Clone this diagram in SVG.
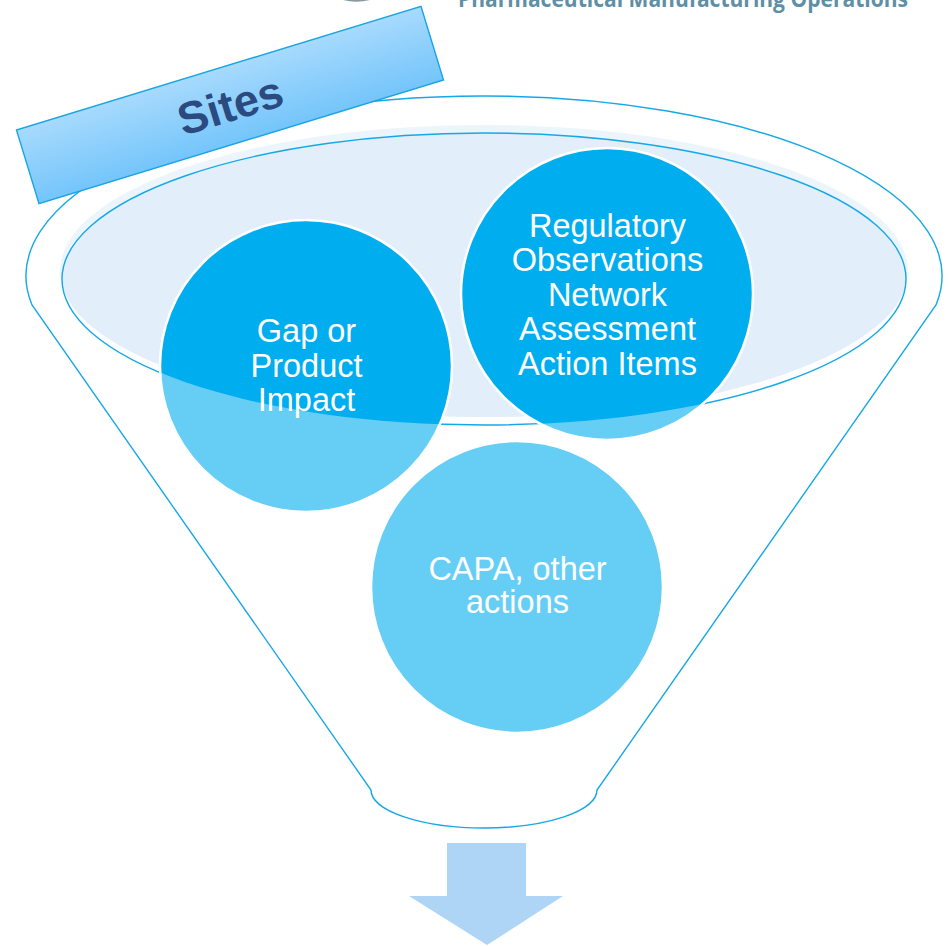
<svg xmlns="http://www.w3.org/2000/svg" width="949" height="946" viewBox="0 0 949 946">
  <defs>
    <linearGradient id="bannerFill" x1="0" y1="0" x2="0" y2="1">
      <stop offset="0" stop-color="#a7dafd"/>
      <stop offset="1" stop-color="#74c5fb"/>
    </linearGradient>
    <!-- soft upper halo of the basin -->
    <clipPath id="haloClip">
      <ellipse cx="484" cy="271" rx="424" ry="146"/>
    </clipPath>
    <!-- area inside the basin rim -->
    <clipPath id="basinClip">
      <ellipse cx="484" cy="279" rx="422" ry="146"/>
    </clipPath>
    <style>
      .outline { fill: none; stroke: #16a8e6; stroke-width: 1.4; }
      .disc-light { fill: #66cef5; }
      .disc-dark { fill: #00aeef; }
      .disc-edge { fill: none; stroke: #ffffff; stroke-width: 2.5; }
      .label { font-family: "Liberation Sans", Arial, sans-serif; font-size: 32.5px; fill: #ffffff; text-anchor: middle; }
    </style>
  </defs>

  <rect width="949" height="946" fill="#ffffff"/>

  <!-- header strip -->
  <g id="header">
    <path d="M343,0 Q356,3.5 370,0 Z" fill="#8a99a0"/>
    <text x="458" y="7" textLength="450" lengthAdjust="spacingAndGlyphs" font-family="'Open Sans', 'Liberation Sans', sans-serif" font-weight="700" font-size="24" fill="#5f8fa4">Pharmaceutical Manufacturing Operations</text>
  </g>

  <!-- funnel body -->
  <g id="funnel">
    <path class="outline" d="M32,305 A458,180 0 1 1 936,305 L597,790 A113,38 0 0 1 371,790 Z"/>
  </g>

  <!-- basin of the funnel -->
  <g id="basin">
    <ellipse cx="484" cy="271" rx="424" ry="146" fill="#ecf4fc"/>
    <ellipse cx="484" cy="279" rx="422" ry="146" fill="#e2eefa" clip-path="url(#haloClip)"/>
    <ellipse class="outline" cx="484" cy="279" rx="422" ry="146"/>
  </g>

  <!-- banner -->
  <g id="sites" transform="translate(230,105) rotate(-17)">
    <rect x="-211.5" y="-38.5" width="423" height="77" fill="url(#bannerFill)" stroke="#18a4e3" stroke-width="1.4"/>
    <text x="0" y="16" text-anchor="middle" font-family="'Liberation Sans', Arial, sans-serif" font-weight="bold" font-size="45" fill="#2a4a80">Sites</text>
  </g>

  <!-- nodes -->
  <g id="node-gap">
    <circle class="disc-light" cx="306" cy="366" r="146"/>
    <circle class="disc-dark" cx="306" cy="366" r="146" clip-path="url(#basinClip)"/>
    <circle class="disc-edge" cx="306" cy="366" r="146"/>
    <text class="label" x="306.5" y="341.5">Gap or</text>
    <text class="label" x="306.5" y="376.5">Product</text>
    <text class="label" x="306.5" y="410.5">Impact</text>
  </g>

  <g id="node-regulatory">
    <circle class="disc-light" cx="607" cy="294" r="146"/>
    <circle class="disc-dark" cx="607" cy="294" r="146" clip-path="url(#basinClip)"/>
    <circle class="disc-edge" cx="607" cy="294" r="146"/>
    <text class="label" x="607.5" y="236.5">Regulatory</text>
    <text class="label" x="607.5" y="271">Observations</text>
    <text class="label" x="607.5" y="305.5">Network</text>
    <text class="label" x="607.5" y="340">Assessment</text>
    <text class="label" x="607.5" y="374.5">Action Items</text>
  </g>

  <g id="node-capa">
    <circle class="disc-light" cx="517" cy="587" r="146"/>
    <circle class="disc-edge" cx="517" cy="587" r="146"/>
    <text class="label" x="517.5" y="580" font-size="31.5">CAPA, other</text>
    <text class="label" x="517.5" y="613" font-size="31.5">actions</text>
  </g>

  <!-- outflow arrow -->
  <g id="connectors">
    <polygon points="447,843 526,843 526,896 563,896 487,945 409,896 447,896" fill="#aed4f6"/>
  </g>
</svg>
